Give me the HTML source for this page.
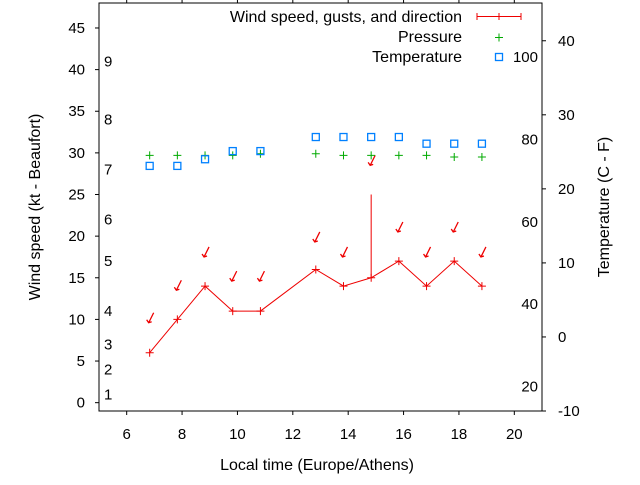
<!DOCTYPE html>
<html><head><meta charset="utf-8"><style>
html,body{margin:0;padding:0;background:#fff;}
svg text{font-family:"Liberation Sans",sans-serif;font-size:15px;fill:#000;}
svg text.big{font-size:16px;}
</style></head><body>
<svg id="chart" width="640" height="480" xmlns="http://www.w3.org/2000/svg">
<rect width="640" height="480" fill="#fff"/>
<g id="axes"></g>
<g id="marks"></g>
<text class="big" transform="translate(40,207) rotate(-90)" text-anchor="middle">Wind speed (kt - Beaufort)</text>
<text class="big" transform="translate(609,207) rotate(-90)" text-anchor="middle">Temperature (C - F)</text>
<text class="big" x="317" y="470" text-anchor="middle">Local time (Europe/Athens)</text>
<g>
<text class="big" x="462" y="22" text-anchor="end">Wind speed, gusts, and direction</text>
<text class="big" x="462" y="42" text-anchor="end">Pressure</text>
<text class="big" x="462" y="62" text-anchor="end">Temperature</text>
<g stroke="#e00" stroke-width="1">
<line x1="477" y1="16.5" x2="521" y2="16.5"/><line x1="477" y1="13" x2="477" y2="20"/><line x1="521" y1="13" x2="521" y2="20"/><line x1="499" y1="13" x2="499" y2="20"/></g>
<g stroke="#0a0" stroke-width="1">
<line x1="495" y1="37.5" x2="503" y2="37.5"/><line x1="499" y1="33.5" x2="499" y2="41.5"/></g>
<rect x="495.5" y="53.5" width="7" height="7" fill="none" stroke="#0080ff" stroke-width="1.3"/>
</g>
</svg>
<script>
const hours=[6.83,7.83,8.83,9.83,10.83,12.83,13.83,14.83,15.83,16.83,17.83,18.83];
const windSpeed=[6,10,14,11,11,16,14,15,17,14,17,14];
const windGust=[null,null,null,null,null,null,null,25,null,null,null,null];
const arrowLevel=[9.6,13.5,17.5,14.6,14.6,19.3,17.5,28.5,20.5,17.5,20.5,17.5];
const pressure=[29.7,29.7,29.7,29.7,29.9,29.9,29.7,29.7,29.7,29.7,29.5,29.5];
const temperature=[23.1,23.1,24.0,25.1,25.1,27.0,27.0,27.0,27.0,26.1,26.1,26.1];
const xTicks=[6,8,10,12,14,16,18,20];
const yTicks=[0,5,10,15,20,25,30,35,40,45];
const y2Ticks=[-10,0,10,20,30,40];
const fTicks=[20,40,60,80,100];
const beaufort=[1,4,7,11,17,22,28,34,41];

const L=99,R=542,T=3,B=411;
const X=h=>L+(h-5)*(R-L)/16;
const Y=v=>B-(v+1)*(B-T)/49;
const Y2=c=>B-(c+10)*(B-T)/55.1;
const NS="http://www.w3.org/2000/svg";
function mk(tag,attrs,parent,txt){const e=document.createElementNS(NS,tag);for(const k in attrs)e.setAttribute(k,attrs[k]);if(txt!==undefined)e.textContent=txt;parent.appendChild(e);return e;}
const ax=document.getElementById('axes'),mg=document.getElementById('marks');
let e=mk('rect',{x:L,y:T,width:R-L,height:B-T,fill:'none',stroke:'#000','stroke-width':1},ax);


xTicks.forEach(t=>{const x=X(t);
 e=mk('line',{x1:x,y1:B,x2:x,y2:B+4,stroke:'#000'},ax);
 
 
 e=mk('line',{x1:x,y1:T,x2:x,y2:T-4,stroke:'#000'},ax);
 
 
 e=mk('text',{x:x,y:439,'text-anchor':'middle'},ax,String(t));
 
 });
yTicks.forEach(t=>{const y=Y(t);
 e=mk('line',{x1:L,y1:y,x2:L-4,y2:y,stroke:'#000'},ax);
 
 
 e=mk('text',{x:85,y:y+5,'text-anchor':'end'},ax,String(t));
 
 });
y2Ticks.forEach(t=>{const y=Y2(t);
 e=mk('line',{x1:R,y1:y,x2:R+4,y2:y,stroke:'#000'},ax);
 
 
 e=mk('text',{x:558,y:y+5,'text-anchor':'start'},ax,String(t));
 
 });
fTicks.forEach(f=>{const y=Y2((f-32)*5/9);
 e=mk('text',{x:538,y:y+5,'text-anchor':'end'},ax,String(f));
 
 });
beaufort.forEach((k,i)=>{
 e=mk('text',{x:104,y:Y(k)+5},ax,String(i+1));
 
 });
e=mk('polyline',{points:hours.map((h,i)=>X(h)+','+Y(windSpeed[i])).join(' '),fill:'none',stroke:'#e00','stroke-width':1},mg);


hours.forEach((h,i)=>{const x=X(h),y=Y(windSpeed[i]);
 e=mk('path',{d:`M${x-4},${y}H${x+4}M${x},${y-4}V${y+4}`,stroke:'#e00','stroke-width':1},mg);
 
 
 if(windGust[i]!=null){
  e=mk('line',{x1:x,y1:y,x2:x,y2:Y(windGust[i]),stroke:'#e00','stroke-width':1},mg);
  
  }
 const ay=Y(arrowLevel[i]);
 e=mk('path',{d:`M${x+4},${ay-10}L${x-1},${ay}M${x-3},${ay-3}L${x-1},${ay}L${x+2},${ay-1}`,stroke:'#e00','stroke-width':1.3,fill:'none'},mg);
 
 
 const py=Y(pressure[i]);
 e=mk('path',{d:`M${x-4},${py}H${x+4}M${x},${py-4}V${py+4}`,stroke:'#0a0','stroke-width':1},mg);
 
 
 const ty=Y2(temperature[i]);
 e=mk('rect',{x:x-3.5,y:ty-3.5,width:7,height:7,fill:'none',stroke:'#0080ff','stroke-width':1.3},mg);
 
 
});
</script>
</body></html>
